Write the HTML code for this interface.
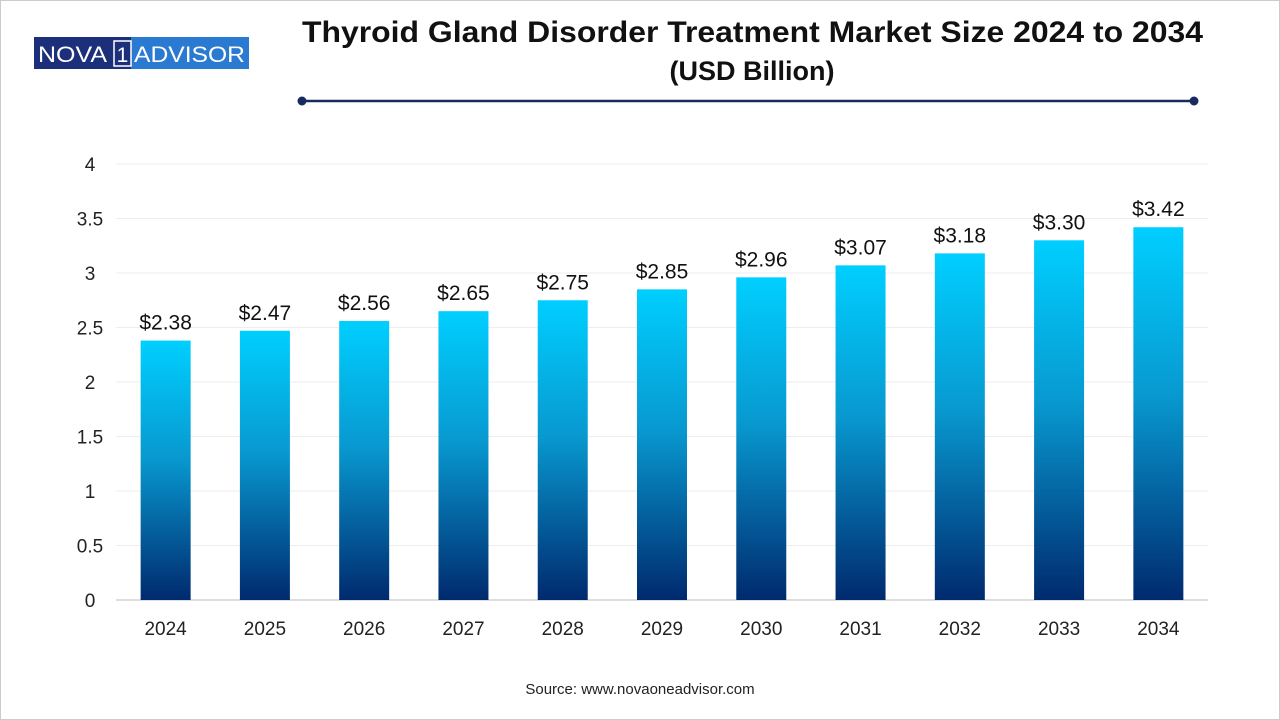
<!DOCTYPE html>
<html><head><meta charset="utf-8"><style>
body{margin:0;background:#fff;}
svg{display:block;font-family:"Liberation Sans",Arial,sans-serif;}
</style></head><body>
<svg id="chart" width="1280" height="720" viewBox="0 0 1280 720">
<defs>
<linearGradient id="barGrad" x1="0" y1="0" x2="0" y2="1">
<stop offset="0" stop-color="#00cfff"/>
<stop offset="0.45" stop-color="#0899d0"/>
<stop offset="1" stop-color="#002a6e"/>
</linearGradient>
</defs>
<rect x="0.5" y="0.5" width="1279" height="719" fill="#fff" stroke="#ccc"/>
<g>
<rect x="34" y="37" width="98" height="32" fill="#1b2f7a"/>
<rect x="131" y="37" width="118" height="32" fill="#2a7ad1"/>
<rect x="114" y="41" width="17" height="25" fill="none" stroke="#fff" stroke-width="1.5"/>
<text x="38" y="62" font-size="22" fill="#fff" textLength="69" lengthAdjust="spacingAndGlyphs">NOVA</text>
<text x="122.5" y="62" font-size="21" fill="#fff" text-anchor="middle">1</text>
<text x="134" y="62" font-size="22" fill="#fff" textLength="111" lengthAdjust="spacingAndGlyphs">ADVISOR</text>
</g>
<text x="302" y="42" font-size="30" font-weight="bold" fill="#111" textLength="901" lengthAdjust="spacingAndGlyphs">Thyroid Gland Disorder Treatment Market Size 2024 to 2034</text>
<text x="752" y="80" text-anchor="middle" font-size="27" font-weight="bold" fill="#111">(USD Billion)</text>
<g>
<line x1="302" y1="101" x2="1194" y2="101" stroke="#1b2a5e" stroke-width="2.5"/>
<circle cx="302" cy="101" r="4.5" fill="#1b2a5e"/>
<circle cx="1194" cy="101" r="4.5" fill="#1b2a5e"/>
</g>
<g id="grid"></g><g id="bars"></g><g id="labels"></g>
<text x="640" y="694" text-anchor="middle" font-size="15" fill="#222">Source: www.novaoneadvisor.com</text>
</svg>
<script>
const categories=["2024","2025","2026","2027","2028","2029","2030","2031","2032","2033","2034"];
const values=[2.38,2.47,2.56,2.65,2.75,2.85,2.96,3.07,3.18,3.30,3.42];
const valueLabels=["$2.38","$2.47","$2.56","$2.65","$2.75","$2.85","$2.96","$3.07","$3.18","$3.30","$3.42"];
const yTicks=[0,0.5,1,1.5,2,2.5,3,3.5,4];
const yTickLabels=["0","0.5","1","1.5","2","2.5","3","3.5","4"];
const NS="http://www.w3.org/2000/svg";
const X0=116,X1=1208,Y0=600,Y1=164,YMAX=4;
const band=(X1-X0)/categories.length;
const xCenter=i=>X0+band*(i+0.5);
const y=v=>Y0-(v/YMAX)*(Y0-Y1);
function mk(tag,attrs,parent){const e=document.createElementNS(NS,tag);for(const k in attrs)e.setAttribute(k,attrs[k]);parent.appendChild(e);return e;}
const grid=document.getElementById('grid'),bars=document.getElementById('bars'),labels=document.getElementById('labels');
yTicks.forEach((t,i)=>{
 if(t>0){const g=mk('line',{x1:X0,x2:X1,y1:y(t),y2:y(t),stroke:'#eeeeee','stroke-width':1},grid);
 
 }
 const tx=mk('text',{x:90,y:y(t)+7,'text-anchor':'middle','font-size':19,fill:'#222'},labels);
 tx.textContent=yTickLabels[i];
 
 
});
const ax=mk('line',{x1:X0,x2:X1,y1:Y0,y2:Y0,stroke:'#bbb','stroke-width':1},grid);


const bw=50;
categories.forEach((c,i)=>{
 const cx=xCenter(i);
 const r=mk('rect',{x:cx-bw/2,y:y(values[i]),width:bw,height:Y0-y(values[i]),fill:'url(#barGrad)'},bars);
 
 
 const v=mk('text',{x:cx,y:y(values[i])-11,'text-anchor':'middle','font-size':21,fill:'#111'},labels);
 v.textContent=valueLabels[i];
 
 
 const xl=mk('text',{x:cx,y:635,'text-anchor':'middle','font-size':19,fill:'#222'},labels);
 xl.textContent=c;
 
 
});
</script>
</body></html>
